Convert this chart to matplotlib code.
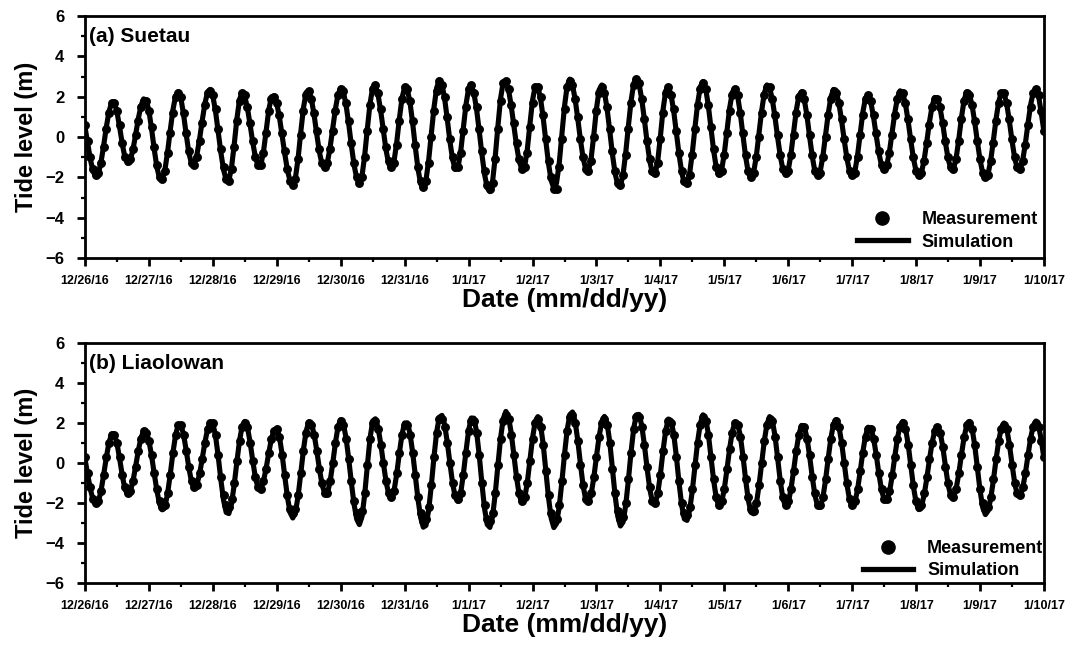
import matplotlib
matplotlib.use("Agg")
import matplotlib.pyplot as plt
import numpy as np
from matplotlib.lines import Line2D
from matplotlib.ticker import MultipleLocator

plt.rcParams["font.family"] = ["Liberation Sans", "DejaVu Sans"]
plt.rcParams["font.weight"] = "bold"

# hourly samples, 12/26/16 00:00 -> 1/10/17 00:00
hours = np.arange(361)
date_labels = ["12/26/16", "12/27/16", "12/28/16", "12/29/16", "12/30/16",
               "12/31/16", "1/1/17", "1/2/17", "1/3/17", "1/4/17", "1/5/17",
               "1/6/17", "1/7/17", "1/8/17", "1/9/17", "1/10/17"]

suetau_obs = [
    0.6, -0.2, -1.0, -1.6, -1.9, -1.8, -1.3, -0.5, 0.4, 1.2, 1.7, 1.7, 1.3, 0.6, -0.3, -1.0, -1.2, -1.1, -0.6, 0.1, 0.8, 1.5, 1.8, 1.8,
    1.3, 0.5, -0.5, -1.4, -2.0, -2.1, -1.7, -0.8, 0.2, 1.2, 2.0, 2.2, 2.0, 1.2, 0.2, -0.7, -1.3, -1.4, -1.0, -0.2, 0.7, 1.6, 2.2, 2.3,
    2.1, 1.4, 0.4, -0.6, -1.5, -2.1, -2.2, -1.6, -0.5, 0.8, 1.8, 2.2, 2.1, 1.5, 0.7, -0.2, -1.0, -1.4, -1.4, -0.8, 0.2, 1.3, 1.9, 2.0,
    1.7, 1.1, 0.2, -0.7, -1.6, -2.2, -2.4, -2.1, -1.1, 0.1, 1.3, 2.1, 2.3, 1.9, 1.2, 0.3, -0.6, -1.3, -1.5, -1.3, -0.6, 0.3, 1.3, 2.1,
    2.4, 2.3, 1.7, 0.8, -0.3, -1.3, -2.0, -2.3, -2.0, -1.0, 0.3, 1.6, 2.4, 2.6, 2.2, 1.4, 0.4, -0.5, -1.2, -1.5, -1.3, -0.4, 0.8, 1.9,
    2.5, 2.4, 1.8, 0.8, -0.4, -1.5, -2.2, -2.5, -2.2, -1.3, 0.0, 1.3, 2.3, 2.8, 2.6, 2.0, 1.0, -0.1, -1.0, -1.5, -1.5, -0.8, 0.3, 1.5,
    2.4, 2.6, 2.2, 1.5, 0.4, -0.7, -1.7, -2.4, -2.6, -2.3, -1.1, 0.4, 1.8, 2.7, 2.8, 2.4, 1.6, 0.7, -0.3, -1.1, -1.6, -1.5, -0.8, 0.5,
    1.7, 2.5, 2.5, 2.0, 1.1, -0.1, -1.2, -2.0, -2.6, -2.6, -1.5, -0.1, 1.4, 2.5, 2.8, 2.6, 1.9, 1.0, -0.1, -1.0, -1.6, -1.7, -1.2, 0.0,
    1.3, 2.2, 2.5, 2.2, 1.5, 0.4, -0.7, -1.7, -2.3, -2.4, -1.9, -0.9, 0.4, 1.7, 2.6, 2.9, 2.7, 1.9, 0.9, -0.2, -1.1, -1.7, -1.8, -1.3,
    -0.1, 1.2, 2.2, 2.5, 2.1, 1.4, 0.3, -0.8, -1.7, -2.2, -2.3, -1.9, -0.9, 0.4, 1.6, 2.4, 2.7, 2.4, 1.6, 0.5, -0.6, -1.5, -1.8, -1.7,
    -0.9, 0.2, 1.3, 2.1, 2.4, 2.1, 1.2, 0.2, -0.9, -1.7, -2.0, -1.8, -1.0, 0.0, 1.2, 2.1, 2.5, 2.5, 1.9, 1.1, 0.1, -0.9, -1.6, -1.8,
    -1.7, -0.9, 0.1, 1.2, 2.0, 2.2, 1.9, 1.1, 0.1, -0.9, -1.7, -1.9, -1.8, -1.0, 0.0, 1.1, 1.9, 2.3, 2.2, 1.7, 0.9, -0.1, -1.0, -1.7,
    -1.9, -1.8, -1.0, 0.1, 1.1, 1.9, 2.1, 1.8, 1.1, 0.2, -0.7, -1.4, -1.6, -1.4, -0.8, 0.1, 1.1, 1.9, 2.2, 2.2, 1.7, 0.9, -0.1, -1.0,
    -1.7, -1.9, -1.8, -1.2, -0.3, 0.6, 1.5, 1.9, 1.9, 1.5, 0.7, -0.2, -1.0, -1.5, -1.6, -1.1, -0.2, 0.9, 1.8, 2.2, 2.1, 1.6, 0.8, -0.2,
    -1.1, -1.8, -2.0, -1.9, -1.2, -0.3, 0.8, 1.7, 2.2, 2.2, 1.7, 0.9, -0.1, -1.0, -1.5, -1.6, -1.2, -0.4, 0.6, 1.5, 2.2, 2.4, 2.1, 1.3,
    0.3,
]

suetau_sim = [
    0.49, -0.31, -1.10, -1.69, -1.96, -1.82, -1.26, -0.43, 0.49, 1.26, 1.70, 1.70, 1.24, 0.49, -0.35, -1.02, -1.30, -1.14, -0.63, 0.11, 0.90, 1.54, 1.89, 1.83,
    1.29, 0.40, -0.62, -1.51, -2.05, -2.10, -1.63, -0.75, 0.33, 1.34, 2.03, 2.25, 1.92, 1.12, 0.12, -0.79, -1.33, -1.34, -0.89, -0.12, 0.81, 1.65, 2.22, 2.36,
    2.03, 1.28, 0.28, -0.76, -1.62, -2.13, -2.16, -1.52, -0.39, 0.88, 1.85, 2.22, 2.01, 1.42, 0.59, -0.29, -1.02, -1.43, -1.39, -0.74, 0.31, 1.35, 2.00, 2.04,
    1.66, 0.97, 0.08, -0.84, -1.65, -2.20, -2.39, -2.03, -1.05, 0.24, 1.44, 2.21, 2.30, 1.88, 1.10, 0.14, -0.75, -1.37, -1.56, -1.26, -0.53, 0.43, 1.39, 2.12,
    2.42, 2.23, 1.59, 0.65, -0.42, -1.38, -2.06, -2.30, -1.92, -0.91, 0.42, 1.66, 2.45, 2.55, 2.11, 1.30, 0.31, -0.64, -1.32, -1.56, -1.21, -0.29, 0.89, 1.93,
    2.47, 2.36, 1.72, 0.69, -0.50, -1.58, -2.32, -2.55, -2.15, -1.16, 0.15, 1.45, 2.43, 2.83, 2.62, 1.91, 0.88, -0.22, -1.12, -1.60, -1.51, -0.76, 0.42, 1.59,
    2.41, 2.57, 2.17, 1.37, 0.29, -0.86, -1.86, -2.52, -2.71, -2.21, -0.98, 0.53, 1.91, 2.73, 2.78, 2.34, 1.54, 0.55, -0.43, -1.20, -1.60, -1.49, -0.67, 0.61,
    1.82, 2.52, 2.49, 1.92, 0.95, -0.21, -1.32, -2.16, -2.54, -2.29, -1.33, 0.08, 1.52, 2.54, 2.87, 2.58, 1.87, 0.89, -0.16, -1.05, -1.61, -1.68, -1.06, 0.10,
    1.40, 2.34, 2.58, 2.22, 1.39, 0.29, -0.86, -1.81, -2.37, -2.42, -1.84, -0.76, 0.56, 1.80, 2.66, 2.92, 2.62, 1.87, 0.85, -0.25, -1.19, -1.77, -1.85, -1.20,
    0.03, 1.36, 2.29, 2.48, 2.09, 1.28, 0.22, -0.86, -1.76, -2.30, -2.34, -1.79, -0.76, 0.50, 1.68, 2.50, 2.75, 2.40, 1.55, 0.43, -0.69, -1.54, -1.89, -1.63,
    -0.81, 0.33, 1.44, 2.22, 2.41, 2.02, 1.17, 0.07, -0.98, -1.77, -2.05, -1.76, -0.96, 0.15, 1.29, 2.17, 2.58, 2.44, 1.88, 1.00, -0.01, -0.94, -1.62, -1.89,
    -1.64, -0.86, 0.24, 1.31, 2.06, 2.24, 1.87, 1.07, 0.03, -0.96, -1.71, -1.97, -1.70, -0.95, 0.09, 1.15, 1.98, 2.36, 2.23, 1.68, 0.83, -0.15, -1.05, -1.71,
    -1.97, -1.71, -0.92, 0.17, 1.23, 1.94, 2.07, 1.72, 1.00, 0.09, -0.78, -1.41, -1.64, -1.39, -0.71, 0.23, 1.20, 1.95, 2.29, 2.16, 1.63, 0.79, -0.18, -1.07,
    -1.71, -1.97, -1.77, -1.14, -0.24, 0.74, 1.54, 1.96, 1.92, 1.44, 0.64, -0.28, -1.08, -1.56, -1.59, -1.07, -0.13, 0.95, 1.83, 2.24, 2.11, 1.57, 0.73, -0.24,
    -1.14, -1.79, -2.05, -1.84, -1.16, -0.17, 0.89, 1.75, 2.21, 2.16, 1.65, 0.79, -0.19, -1.05, -1.56, -1.61, -1.16, -0.33, 0.68, 1.61, 2.24, 2.39, 2.01, 1.17,
    0.25,
]

liaolowan_obs = [
    0.3, -0.5, -1.2, -1.8, -2.0, -1.9, -1.4, -0.6, 0.3, 1.0, 1.4, 1.4, 1.0, 0.3, -0.6, -1.2, -1.5, -1.4, -0.9, -0.2, 0.6, 1.2, 1.6, 1.5,
    1.1, 0.4, -0.5, -1.3, -1.9, -2.2, -2.1, -1.5, -0.6, 0.5, 1.4, 1.9, 1.9, 1.4, 0.6, -0.2, -0.9, -1.2, -1.1, -0.5, 0.2, 1.0, 1.7, 2.0,
    2.0, 1.4, 0.4, -0.7, -1.6, -2.1, -2.2, -1.8, -1.0, 0.1, 1.1, 1.8, 2.0, 1.8, 1.0, 0.1, -0.7, -1.2, -1.3, -0.9, -0.3, 0.5, 1.2, 1.6,
    1.7, 1.3, 0.4, -0.6, -1.6, -2.3, -2.5, -2.3, -1.6, -0.5, 0.6, 1.5, 2.0, 1.9, 1.4, 0.6, -0.3, -1.0, -1.5, -1.5, -0.9, 0.0, 1.0, 1.8,
    2.1, 1.9, 1.2, 0.2, -0.9, -1.9, -2.5, -2.7, -2.4, -1.5, -0.1, 1.2, 2.0, 2.1, 1.7, 0.9, 0.0, -0.9, -1.5, -1.7, -1.4, -0.5, 0.5, 1.4,
    1.9, 1.9, 1.4, 0.5, -0.6, -1.7, -2.5, -2.9, -2.8, -2.2, -1.1, 0.3, 1.5, 2.2, 2.2, 1.8, 1.0, 0.0, -1.0, -1.6, -1.8, -1.5, -0.6, 0.5,
    1.6, 2.1, 2.1, 1.5, 0.4, -1.0, -2.1, -2.8, -2.9, -2.5, -1.5, -0.1, 1.2, 2.1, 2.4, 2.2, 1.4, 0.4, -0.7, -1.5, -1.9, -1.7, -1.0, 0.1,
    1.2, 2.0, 2.2, 1.8, 0.9, -0.4, -1.6, -2.5, -2.9, -2.8, -2.1, -0.9, 0.4, 1.6, 2.3, 2.4, 2.0, 1.1, -0.1, -1.1, -1.8, -1.9, -1.5, -0.7,
    0.3, 1.3, 2.0, 2.2, 1.9, 1.0, -0.3, -1.5, -2.4, -2.8, -2.7, -2.0, -0.8, 0.5, 1.7, 2.3, 2.3, 1.8, 0.9, -0.2, -1.2, -1.9, -2.0, -1.5,
    -0.6, 0.6, 1.6, 2.1, 2.0, 1.4, 0.3, -0.9, -2.0, -2.5, -2.6, -2.2, -1.3, -0.1, 1.0, 1.9, 2.3, 2.1, 1.4, 0.3, -0.8, -1.7, -2.1, -1.9,
    -1.3, -0.3, 0.7, 1.5, 2.0, 1.9, 1.3, 0.3, -0.8, -1.7, -2.3, -2.4, -2.0, -1.1, 0.0, 1.1, 1.9, 2.2, 2.1, 1.3, 0.3, -0.9, -1.7, -2.1,
    -1.9, -1.3, -0.4, 0.6, 1.4, 1.8, 1.8, 1.2, 0.4, -0.7, -1.5, -2.1, -2.1, -1.7, -0.8, 0.2, 1.2, 1.9, 2.1, 1.8, 1.0, 0.0, -1.0, -1.8,
    -2.1, -1.9, -1.3, -0.4, 0.5, 1.3, 1.7, 1.7, 1.2, 0.4, -0.5, -1.3, -1.8, -1.8, -1.4, -0.6, 0.3, 1.2, 1.8, 2.0, 1.7, 0.9, -0.1, -1.1,
    -1.9, -2.2, -2.1, -1.5, -0.7, 0.2, 1.0, 1.6, 1.8, 1.5, 0.8, -0.2, -1.0, -1.6, -1.7, -1.3, -0.5, 0.4, 1.3, 1.9, 2.0, 1.7, 0.9, -0.2,
    -1.3, -2.0, -2.3, -2.2, -1.7, -0.8, 0.2, 1.1, 1.7, 1.9, 1.7, 0.9, -0.1, -1.0, -1.5, -1.6, -1.2, -0.5, 0.4, 1.2, 1.8, 2.0, 1.8, 1.1,
    0.3,
]

liaolowan_sim = [
    0.20, -0.57, -1.30, -1.83, -2.07, -1.94, -1.40, -0.60, 0.28, 1.02, 1.45, 1.44, 0.98, 0.22, -0.63, -1.30, -1.58, -1.42, -0.91, -0.18, 0.61, 1.25, 1.60, 1.55,
    1.11, 0.36, -0.54, -1.39, -2.05, -2.34, -2.18, -1.53, -0.57, 0.50, 1.40, 1.91, 1.91, 1.42, 0.63, -0.25, -0.95, -1.25, -1.08, -0.56, 0.21, 1.02, 1.69, 2.05,
    1.97, 1.36, 0.34, -0.84, -1.86, -2.47, -2.53, -2.03, -1.10, 0.04, 1.11, 1.85, 2.08, 1.77, 1.02, 0.09, -0.76, -1.26, -1.28, -0.90, -0.26, 0.52, 1.22, 1.65,
    1.72, 1.30, 0.43, -0.67, -1.71, -2.48, -2.75, -2.46, -1.65, -0.52, 0.66, 1.59, 2.05, 1.97, 1.44, 0.62, -0.30, -1.08, -1.52, -1.51, -0.94, -0.02, 1.01, 1.83,
    2.17, 1.95, 1.25, 0.20, -0.99, -2.06, -2.81, -3.08, -2.67, -1.57, -0.12, 1.24, 2.10, 2.21, 1.78, 0.98, 0.00, -0.92, -1.55, -1.75, -1.40, -0.56, 0.49, 1.44,
    2.00, 2.01, 1.48, 0.53, -0.64, -1.81, -2.73, -3.21, -3.12, -2.37, -1.13, 0.30, 1.54, 2.29, 2.38, 1.91, 1.04, -0.02, -1.02, -1.71, -1.92, -1.53, -0.60, 0.56,
    1.62, 2.25, 2.24, 1.56, 0.38, -1.03, -2.29, -3.08, -3.22, -2.67, -1.54, -0.12, 1.24, 2.22, 2.58, 2.29, 1.50, 0.40, -0.72, -1.59, -1.99, -1.79, -1.02, 0.10,
    1.25, 2.07, 2.32, 1.92, 0.94, -0.39, -1.73, -2.76, -3.23, -3.03, -2.21, -0.96, 0.43, 1.65, 2.42, 2.55, 2.07, 1.11, -0.07, -1.15, -1.85, -1.97, -1.57, -0.73,
    0.33, 1.33, 2.07, 2.33, 1.98, 1.04, -0.28, -1.63, -2.67, -3.15, -2.95, -2.09, -0.83, 0.57, 1.75, 2.41, 2.43, 1.87, 0.90, -0.26, -1.29, -1.94, -2.05, -1.54,
    -0.56, 0.62, 1.64, 2.20, 2.13, 1.45, 0.32, -0.99, -2.12, -2.80, -2.87, -2.35, -1.36, -0.12, 1.09, 1.99, 2.41, 2.21, 1.45, 0.30, -0.88, -1.78, -2.17, -1.96,
    -1.29, -0.31, 0.73, 1.58, 2.04, 1.97, 1.36, 0.34, -0.84, -1.86, -2.47, -2.54, -2.05, -1.15, -0.01, 1.10, 1.94, 2.32, 2.13, 1.38, 0.26, -0.91, -1.79, -2.17,
    -1.97, -1.32, -0.38, 0.62, 1.44, 1.88, 1.82, 1.27, 0.36, -0.69, -1.60, -2.15, -2.21, -1.73, -0.85, 0.24, 1.25, 1.95, 2.17, 1.84, 1.05, 0.00, -1.05, -1.84,
    -2.17, -1.97, -1.34, -0.42, 0.56, 1.36, 1.79, 1.74, 1.25, 0.43, -0.52, -1.34, -1.83, -1.88, -1.45, -0.65, 0.33, 1.25, 1.88, 2.08, 1.75, 0.94, -0.13, -1.19,
    -1.99, -2.33, -2.16, -1.60, -0.77, 0.17, 1.02, 1.62, 1.83, 1.55, 0.81, -0.16, -1.07, -1.65, -1.71, -1.30, -0.54, 0.41, 1.28, 1.89, 2.08, 1.73, 0.88, -0.25,
    -1.38, -2.23, -2.58, -2.39, -1.78, -0.86, 0.18, 1.11, 1.77, 2.00, 1.72, 0.95, -0.06, -1.00, -1.60, -1.66, -1.26, -0.52, 0.39, 1.26, 1.88, 2.10, 1.84, 1.14,
    0.20,
]


def draw_panel(ax, obs, sim, title, leg_anchor):
    ax.plot(hours, sim, color="black", lw=3.7, solid_capstyle="butt", zorder=2)
    ax.plot(hours, obs, "o", color="black", ms=5.4, zorder=3)

    ax.set_xlim(0, 360)
    ax.set_ylim(-6, 6)
    ax.set_xticks(np.arange(0, 361, 24))
    ax.set_xticklabels(date_labels, fontsize=9, fontweight="bold")
    ax.xaxis.set_minor_locator(MultipleLocator(12))
    ax.yaxis.set_major_locator(MultipleLocator(2))
    ax.yaxis.set_minor_locator(MultipleLocator(1))
    for lab in ax.get_yticklabels():
        lab.set_fontsize(12)
        lab.set_fontweight("bold")

    for sp in ax.spines.values():
        sp.set_linewidth(2.0)
    ax.tick_params(which="major", length=6, width=2.0, direction="out")
    ax.tick_params(which="minor", length=3, width=1.6, direction="out")
    ax.tick_params(axis="x", which="major", pad=6)
    ax.tick_params(axis="y", which="major", pad=9)

    ax.set_ylabel("Tide level (m)", fontsize=17, fontweight="bold", labelpad=5)
    ax.set_xlabel("Date (mm/dd/yy)", fontsize=19, fontweight="bold", labelpad=1)

    ax.text(0.004, 0.955, title, transform=ax.transAxes, ha="left", va="top",
            fontsize=15, fontweight="bold")

    handles = [Line2D([], [], marker="o", ls="none", color="black", ms=9.5),
               Line2D([], [], color="black", lw=3.8)]
    ax.legend(handles, ["Measurement", "Simulation"], loc="lower right",
              bbox_to_anchor=leg_anchor, frameon=False,
              prop={"size": 13, "weight": "bold"},
              handlelength=2.8, handletextpad=0.75, labelspacing=0.3,
              borderaxespad=0.0, borderpad=0.2)


fig = plt.figure(figsize=(10.7, 6.46), dpi=100)
ax_a = fig.add_axes([85 / 1070, 1 - 258 / 646, 959 / 1070, 242 / 646])
ax_b = fig.add_axes([85 / 1070, 1 - 583 / 646, 959 / 1070, 240 / 646])

draw_panel(ax_a, suetau_obs, suetau_sim, "(a) Suetau", (0.997, 0.015))
draw_panel(ax_b, liaolowan_obs, liaolowan_sim, "(b) Liaolowan", (1.003, 0.0))

fig.savefig("out.png", dpi=100)
